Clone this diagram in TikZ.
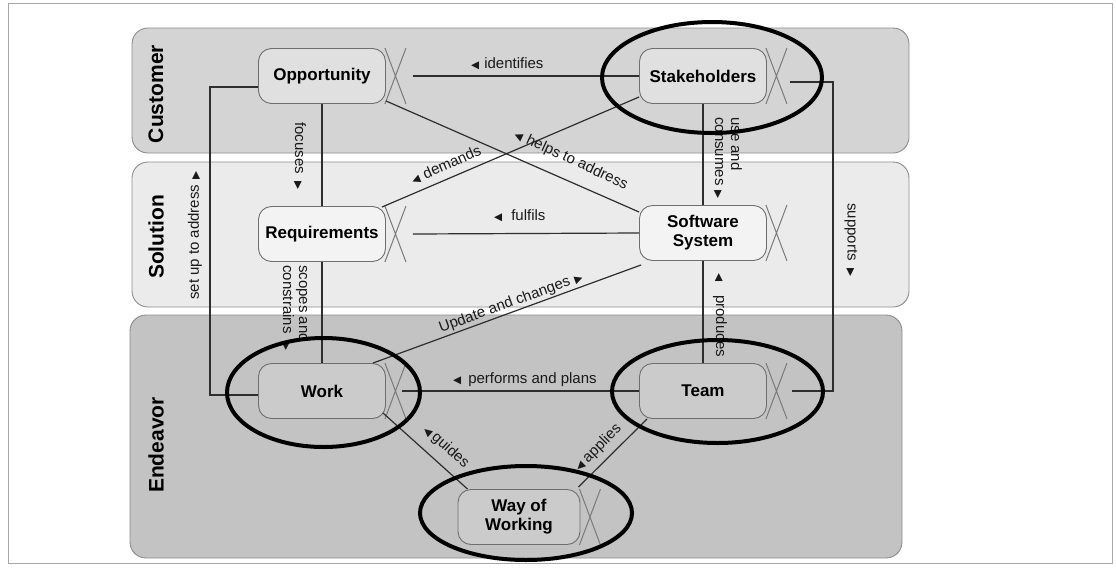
\documentclass[tikz,border=0pt]{standalone}
\usepackage{fontspec}
\setmainfont{Liberation Sans}
\newfontfamily\symf{DejaVu Sans}
\usetikzlibrary{calc}

% small filled triangles used as reading-direction marks
\newcommand\triL{{\symf\fontsize{10.5}{11}\selectfont ◀}}
\newcommand\triR{{\symf\fontsize{10.5}{11}\selectfont ▶}}

\definecolor{framecol}{HTML}{A8A8A8}
\definecolor{laneline}{HTML}{8C8C8C}
\definecolor{custfill}{HTML}{D4D4D4}
\definecolor{solfill}{HTML}{EBEBEB}
\definecolor{endfill}{HTML}{C3C3C3}
\definecolor{custnode}{HTML}{E0E0E0}
\definecolor{solnode}{HTML}{F3F3F3}
\definecolor{endnode}{HTML}{CBCBCB}
\definecolor{boxline}{HTML}{6E6E6E}
\definecolor{crossline}{HTML}{7A7A7A}
\definecolor{linkcol}{HTML}{2E2E2E}

\begin{document}
\begin{tikzpicture}[x=1pt,y=-1pt,
  lane/.style={draw=laneline, line width=0.9pt, rounded corners=16pt},
  lanelabel/.style={font=\fontsize{21}{24}\selectfont\bfseries, rotate=90, inner sep=0pt},
  kernel/.style={draw=boxline, line width=0.9pt, rounded corners=13pt,
    minimum width=127pt, minimum height=55pt, inner sep=0pt, align=center,
    font=\fontsize{17}{19}\selectfont\bfseries},
  cross/.style={draw=crossline, line width=1pt},
  link/.style={draw=linkcol, line width=1.2pt},
  rel/.style={font=\fontsize{15}{16}\selectfont, inner sep=1pt, text=black!90},
  focus/.style={draw=black, line width=4pt},
]
\useasboundingbox (0,0) rectangle (1116,571);
\draw[framecol, line width=1pt] (8,3) rectangle (1112,563);

% swim lanes
\draw[lane, fill=custfill] (132,28) rectangle (909,153);
\draw[lane, fill=solfill]  (132,162) rectangle (909,307);
\draw[lane, fill=endfill]  (130,315) rectangle (902,558);
\node[lanelabel] (lcust) at (156,94)  {Customer};
\node[lanelabel] (lsol)  at (156,237) {Solution};
\node[lanelabel] (lend)  at (156,445) {Endeavor};

% kernel alphas
\node[kernel, fill=custnode] (opp)  at (322,76)  {Opportunity};
\node[kernel, fill=custnode] (stk)  at (703,76)  {Stakeholders};
\node[kernel, fill=solnode]  (req)  at (322,234) {Requirements};
\node[kernel, fill=solnode]  (sys)  at (703,233) {Software\\System};
\node[kernel, fill=endnode]  (work) at (322,391) {Work};
\node[kernel, fill=endnode]  (team) at (703,391) {Team};
\node[kernel, fill=endnode, minimum width=122pt] (wow) at (519,517) {Way of\\Working};

% crossed tails on the right of each alpha
\foreach \n in {opp,stk,req,sys,work,team,wow}
  \draw[cross] ([xshift=-1pt]\n.north east) -- ([xshift=20pt]\n.south east)
               ([xshift=20pt]\n.north east) -- ([xshift=-1pt]\n.south east);

% relationships
\draw[link] ([xshift=27pt]opp.east) -- (stk.west);
\node[rel, anchor=west] (identifies) at (470,64) {\triL\hspace{5pt}identifies};

\draw[link] ([yshift=-11pt]opp.west) -| ([xshift=-48pt,yshift=-4pt]work.west)
            -- ([yshift=-4pt]work.west);
\node[rel, rotate=90, anchor=west] (setup) at (195,301) {set up to address\hspace{5pt}\triR};

\draw[link] (opp.south) -- (req.north);
\node[rel, rotate=-90, anchor=west] (focuses) at (300,121) {focuses\hspace{8pt}\triR};

\draw[link] (req.south) -- (work.north);
\node[rel, rotate=-90, anchor=west, align=left] (scopes) at (296,264)
  {scopes and\\constrains\hspace{9pt}\triR};

\draw[link] (stk.south) -- (sys.north);
\node[rel, rotate=-90, anchor=west, align=left] (uses) at (728,116)
  {use and\\consumes\hspace{5pt}\triR};

\draw[link] (sys.south) -- (team.north);
\node[rel, rotate=-90, anchor=west] (produces) at (720,272) {\triL\hspace{14pt}produces};

\draw[link] ([xshift=23pt,yshift=-6pt]stk.east) -| ([xshift=66pt]team.east)
            -- ([xshift=25pt]team.east);
\node[rel, rotate=-90, anchor=west] (supports) at (851,202) {supports\hspace{8pt}\triR};

\draw[link] ([xshift=27pt]req.east) -- (sys.west);
\node[rel, anchor=west] (fulfils) at (493,216) {\triL\hspace{9pt}fulfils};

\draw[link] ([yshift=-21pt]stk.west) -- ([xshift=-4pt,yshift=-1pt]req.north east);
\node[rel, rotate=23.5] (demands) at (446,165) {\triL\hspace{5pt}demands};

\draw[link] ([yshift=3pt]opp.south east) -- ([yshift=21pt]sys.west);
\node[rel, rotate=-25] (helps) at (571,160) {\triL\hspace{5pt}helps to address};

\draw[link] ([xshift=-13pt]work.north east) -- ([xshift=2pt,yshift=-4pt]sys.south west);
\node[rel, rotate=20] (updates) at (511,303) {Update and changes\hspace{5pt}\triR};

\draw[link] ([xshift=16pt]work.east) -- (team.west);
\node[rel, anchor=west] (performs) at (452,380) {\triL\hspace{7pt}performs and plans};

\draw[link] ([xshift=10pt]wow.north west) -- ([xshift=-3pt,yshift=6pt]work.south east);
\node[rel, rotate=-41.5] (guides) at (446,447) {\triL\hspace{3pt}guides};

\draw[link] ([xshift=8pt]team.south west) -- ([xshift=-2pt,yshift=2pt]wow.north east);
\node[rel, rotate=45] (applies) at (598,448) {\triL\hspace{4pt}applies};

% highlighted alphas
\draw[focus] (712,77.5)  ellipse [x radius=110pt, y radius=55.5pt];
\draw[focus] (323.5,392.5) ellipse [x radius=96.5pt, y radius=54.5pt];
\draw[focus] (717.5,391.5) ellipse [x radius=105.5pt, y radius=51.5pt];
\draw[focus] (526,513) ellipse [x radius=106pt, y radius=47pt];
\end{tikzpicture}
\end{document}
